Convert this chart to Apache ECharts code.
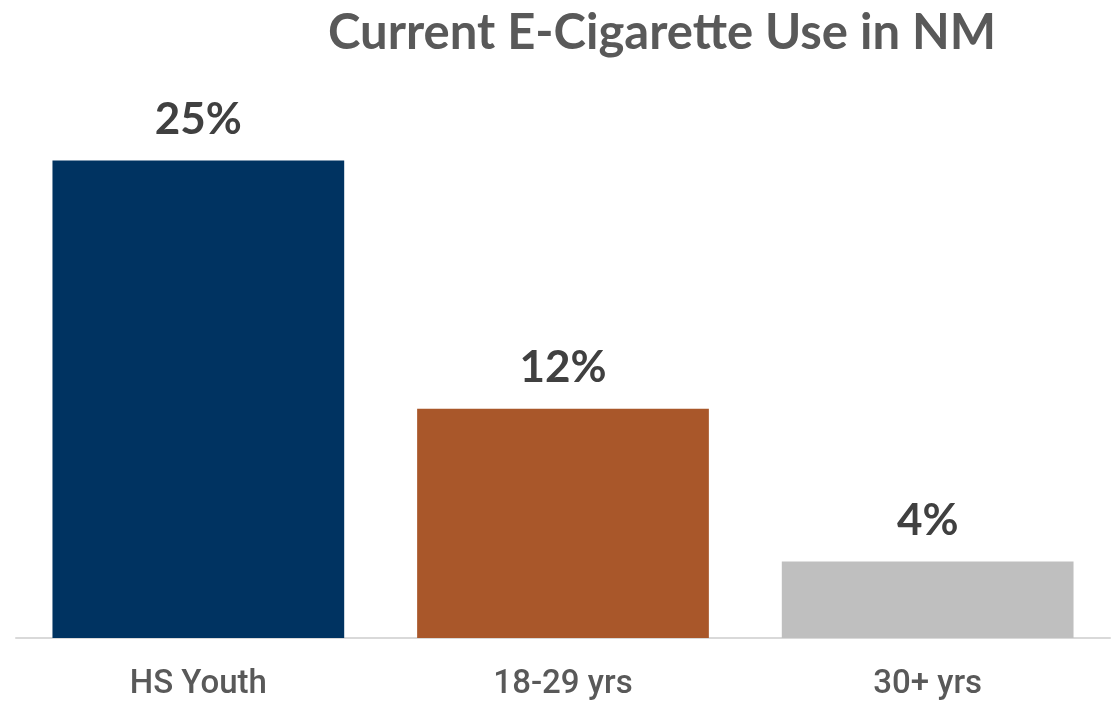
<!DOCTYPE html>
<html><head><meta charset="utf-8">
<script src="https://cdn.jsdelivr.net/npm/echarts@6/dist/echarts.min.js"></script>
<style>html,body{margin:0;padding:0;background:#fff}#c{width:1114px;height:703px}</style>
</head><body><div id="c"></div>
<script>
const categories = ["HS Youth", "18-29 yrs", "30+ yrs"];
const values = [25, 12, 4];
const colors = ["#003361", "#A9572A", "#BFBFBF"];
const titleText = "Current E-Cigarette Use in NM";

const chart = echarts.init(document.getElementById('c'), null, {renderer: 'canvas'});
chart.setOption({
  animation: false,
  title: {
    text: titleText, left: 657, textAlign: 'center', top: 4,
    textStyle: {fontFamily: 'Lato', fontWeight: 'bold', fontSize: 49, color: '#595959'}
  },
  grid: {left: 16, right: 4, top: 65, bottom: 65, containLabel: false},
  xAxis: {
    type: 'category', data: categories,
    axisLine: {lineStyle: {color: '#D9D9D9', width: 2}},
    axisTick: {show: false},
    axisLabel: {margin: 30, fontFamily: 'Roboto', fontWeight: 500, fontSize: 33, color: '#595959'}
  },
  yAxis: {type: 'value', min: 0, max: 30, show: false, splitLine: {show: false}},
  series: [{
    type: 'bar', barWidth: '80%',
    data: values.map((v, i) => ({value: v, itemStyle: {color: colors[i]}})),
    label: {
      show: true, position: 'top', distance: 19,
      formatter: p => p.value + '%',
      fontFamily: 'Lato', fontWeight: 'bold', fontSize: 44, color: '#404040'
    }
  }]
});
</script></body></html>
